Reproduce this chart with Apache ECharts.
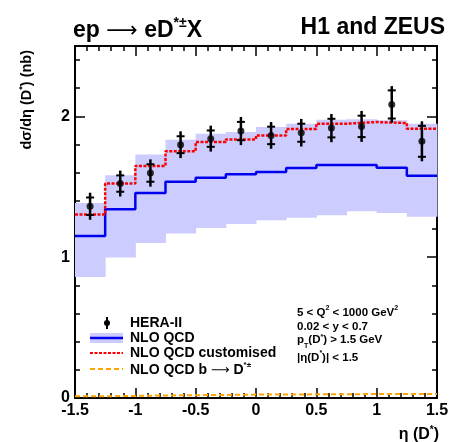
<!DOCTYPE html>
<html>
<head>
<meta charset="utf-8">
<script src="https://cdn.jsdelivr.net/npm/echarts@6/dist/echarts.min.js"></script>
<style>html,body{margin:0;padding:0;background:#fff;}#c{width:450px;height:442px;}</style>
</head>
<body>
<div id="c"></div>
<script>
// ---- data ----
var binEdges = [-1.5, -1.25, -1.0, -0.75, -0.5, -0.25, 0, 0.25, 0.5, 0.75, 1.0, 1.25, 1.5];
var etaCentres = [-1.375, -1.125, -0.875, -0.625, -0.375, -0.125, 0.125, 0.375, 0.625, 0.875, 1.125, 1.375];
var heraII = [1.362, 1.523, 1.598, 1.799, 1.842, 1.896, 1.865, 1.884, 1.917, 1.929, 2.085, 1.823];
var heraTotErr = [0.096, 0.092, 0.097, 0.095, 0.092, 0.100, 0.095, 0.098, 0.100, 0.110, 0.130, 0.142];
var heraStatErr = [0.062, 0.058, 0.062, 0.060, 0.058, 0.065, 0.062, 0.064, 0.066, 0.076, 0.100, 0.110];
var nloQCD = [1.151, 1.340, 1.456, 1.536, 1.565, 1.589, 1.605, 1.633, 1.655, 1.655, 1.636, 1.579];
var nloUpper = [1.385, 1.582, 1.730, 1.835, 1.877, 1.889, 1.925, 1.948, 1.977, 1.980, 1.972, 1.948];
var nloLower = [0.860, 0.998, 1.101, 1.168, 1.208, 1.236, 1.262, 1.281, 1.298, 1.326, 1.314, 1.287];
var nloCustomised = [1.303, 1.523, 1.648, 1.752, 1.818, 1.836, 1.865, 1.910, 1.948, 1.960, 1.953, 1.913];
var nloBtoD = [0.012, 0.015, 0.018, 0.020, 0.022, 0.024, 0.025, 0.026, 0.027, 0.028, 0.028, 0.028];
var xTicks = [-1.5, -1, -0.5, 0, 0.5, 1, 1.5];
var yTicks = [0, 1, 2];

// ---- helpers ----
function stepLine(vals) {
  var pts = [];
  for (var i = 0; i < vals.length; i++) {
    pts.push([binEdges[i], vals[i]]);
    pts.push([binEdges[i + 1], vals[i]]);
  }
  return pts;
}
var bandData = nloUpper.map(function (u, i) { return [binEdges[i], binEdges[i + 1], nloLower[i], u]; });
var heraData = heraII.map(function (v, i) { return [etaCentres[i], v, heraTotErr[i], heraStatErr[i]]; });

var FONT = '"Liberation Sans", Arial, Helvetica, sans-serif';
var ARROWFONT = '"DejaVu Sans", "Liberation Sans", sans-serif';
var chart = echarts.init(document.getElementById('c'), null, { renderer: 'canvas' });

var tickStyle = { color: '#000', width: 1.5 };
function xAx(pos, labels) {
  return {
    type: 'value', position: pos, min: -1.5, max: 1.5, interval: 0.5,
    axisLine: { show: true, onZero: false, lineStyle: { color: '#000', width: 2 } },
    axisTick: { show: true, inside: true, length: 10, lineStyle: tickStyle },
    minorTick: { show: true, splitNumber: 5, length: 5, lineStyle: tickStyle },
    splitLine: { show: false }, minorSplitLine: { show: false },
    axisLabel: labels ? {
      show: true, margin: 5, color: '#000', fontFamily: FONT, fontWeight: 'bold', fontSize: 16,
      formatter: function (v) { return xTicks.indexOf(v) >= 0 ? String(v) : ''; }
    } : { show: false }
  };
}
function yAx(pos, interval, len, labels, line) {
  return {
    type: 'value', position: pos, min: 0, max: 2.5, interval: interval,
    axisLine: { show: line, onZero: false, lineStyle: { color: '#000', width: 2 } },
    axisTick: { show: true, inside: true, length: len, lineStyle: tickStyle },
    splitLine: { show: false },
    axisLabel: labels ? {
      show: true, margin: 5, color: '#000', fontFamily: FONT, fontWeight: 'bold', fontSize: 16,
      showMaxLabel: false,
      formatter: function (v) { return yTicks.indexOf(v) >= 0 ? String(v) : ''; }
    } : { show: false }
  };
}

var option = {
  animation: false,
  backgroundColor: '#fff',
  grid: { left: 75, right: 13, top: 46, bottom: 44, containLabel: false, outerBoundsMode: 'none' },
  xAxis: [xAx('bottom', true), xAx('top', false)],
  yAxis: [yAx('left', 1, 10, true, true), yAx('left', 0.2, 5, false, false),
          yAx('right', 1, 10, false, true), yAx('right', 0.2, 5, false, false)],
  series: [
    {
      type: 'custom', name: 'band', xAxisIndex: 0, yAxisIndex: 0, z: 1,
      data: bandData,
      renderItem: function (params, api) {
        var p1 = api.coord([api.value(0), api.value(3)]);
        var p2 = api.coord([api.value(1), api.value(2)]);
        return { type: 'rect', shape: { x: p1[0], y: p1[1], width: p2[0] - p1[0] + 0.5, height: p2[1] - p1[1] },
                 style: { fill: '#ccccff' } };
      }
    },
    { type: 'line', name: 'NLO QCD', data: stepLine(nloQCD), showSymbol: false, z: 3,
      lineStyle: { color: '#0000ee', width: 2.5 } },
    { type: 'line', name: 'NLO QCD customised', data: stepLine(nloCustomised), showSymbol: false, z: 4,
      lineStyle: { color: '#ff0000', width: 2.5, type: [3, 1.5] } },
    { type: 'line', name: 'NLO QCD b', data: stepLine(nloBtoD), showSymbol: false, z: 4,
      lineStyle: { color: '#ffa500', width: 2, type: [5, 3] } },
    {
      type: 'custom', name: 'errors', z: 5, data: heraData,
      renderItem: function (params, api) {
        var x = api.value(0), y = api.value(1), t = api.value(2), s = api.value(3);
        var top = api.coord([x, y + t]), bot = api.coord([x, y - t]);
        var st = api.coord([x, y + s]), sb = api.coord([x, y - s]);
        var ls = { stroke: '#000', lineWidth: 2.5 };
        return { type: 'group', children: [
          { type: 'line', shape: { x1: top[0], y1: top[1], x2: bot[0], y2: bot[1] }, style: ls },
          { type: 'line', shape: { x1: st[0] - 4, y1: st[1], x2: st[0] + 4, y2: st[1] }, style: { stroke: '#000', lineWidth: 2 } },
          { type: 'line', shape: { x1: sb[0] - 4, y1: sb[1], x2: sb[0] + 4, y2: sb[1] }, style: { stroke: '#000', lineWidth: 2 } }
        ] };
      }
    },
    { type: 'scatter', name: 'HERA-II', z: 6, data: heraData.map(function (d) { return [d[0], d[1]]; }),
      symbol: 'circle', symbolSize: 7, itemStyle: { color: '#000' } }
  ],
  graphic: [
    { type: 'text', left: 73, top: 16, style: {
        text: '{n|ep }{a|⟶}{n| eD}{s|*±}{n|X}', fill: '#000',
        rich: { n: { fontFamily: FONT, fontWeight: 'bold', fontSize: 23, lineHeight: 26, verticalAlign: 'bottom' },
                a: { fontFamily: ARROWFONT, fontWeight: 'normal', fontSize: 22, lineHeight: 26, verticalAlign: 'bottom' },
                s: { fontFamily: FONT, fontWeight: 'bold', fontSize: 14, lineHeight: 26, verticalAlign: 'top' } } } },
    { type: 'text', right: 5, top: 16, style: {
        text: 'H1 and ZEUS', fill: '#000', font: 'bold 23px ' + FONT } },
    { type: 'text', x: 26, y: 50, rotation: Math.PI / 2, style: {
        text: '{n|dσ/dη (D}{s|*}{n|) (nb)}', align: 'right', verticalAlign: 'middle', fill: '#000',
        rich: { n: { fontFamily: FONT, fontWeight: 'bold', fontSize: 14.5, lineHeight: 16, verticalAlign: 'bottom' },
                s: { fontFamily: FONT, fontWeight: 'bold', fontSize: 9, lineHeight: 16, verticalAlign: 'top' } } } },
    { type: 'text', x: 439, y: 434, style: {
        text: '{n|η (D}{s|*}{n|)}', align: 'right', verticalAlign: 'middle', fill: '#000',
        rich: { n: { fontFamily: FONT, fontWeight: 'bold', fontSize: 16, lineHeight: 18, verticalAlign: 'bottom' },
                s: { fontFamily: FONT, fontWeight: 'bold', fontSize: 10, lineHeight: 18, verticalAlign: 'top' } } } },
    // legend
    { type: 'line', shape: { x1: 107, y1: 317, x2: 107, y2: 329 }, style: { stroke: '#000', lineWidth: 2 } },
    { type: 'circle', shape: { cx: 107, cy: 323, r: 3 }, style: { fill: '#000' } },
    { type: 'rect', shape: { x: 90, y: 333, width: 33, height: 10 }, style: { fill: '#ccccff' } },
    { type: 'line', shape: { x1: 90, y1: 338, x2: 123, y2: 338 }, style: { stroke: '#0000ee', lineWidth: 2.5 } },
    { type: 'line', shape: { x1: 90, y1: 353, x2: 123, y2: 353 }, style: { stroke: '#ff0000', lineWidth: 2, lineDash: [3, 1.5] } },
    { type: 'line', shape: { x1: 90, y1: 369, x2: 123, y2: 369 }, style: { stroke: '#ffa500', lineWidth: 2, lineDash: [5, 3] } },
    { type: 'text', x: 130, y: 323, style: { text: 'HERA-II', verticalAlign: 'middle', fill: '#000', font: 'bold 14px ' + FONT } },
    { type: 'text', x: 130, y: 338, style: { text: 'NLO QCD', verticalAlign: 'middle', fill: '#000', font: 'bold 14px ' + FONT } },
    { type: 'text', x: 130, y: 353, style: { text: 'NLO QCD customised', verticalAlign: 'middle', fill: '#000', font: 'bold 14px ' + FONT } },
    { type: 'text', x: 130, y: 369, style: {
        text: '{n|NLO QCD b }{a|⟶}{n| D}{s|*±}', verticalAlign: 'middle', fill: '#000',
        rich: { n: { fontFamily: FONT, fontWeight: 'bold', fontSize: 14, lineHeight: 16, verticalAlign: 'bottom' },
                a: { fontFamily: ARROWFONT, fontWeight: 'normal', fontSize: 13, lineHeight: 16, verticalAlign: 'bottom' },
                s: { fontFamily: FONT, fontWeight: 'bold', fontSize: 8, lineHeight: 16, verticalAlign: 'top' } } } },
    // cuts
    { type: 'text', x: 297, y: 312, style: {
        text: '{n|5 < Q}{s|2}{n| < 1000 GeV}{s|2}', verticalAlign: 'middle', fill: '#000',
        rich: { n: { fontFamily: FONT, fontWeight: 'bold', fontSize: 11.5, lineHeight: 14, verticalAlign: 'bottom' },
                s: { fontFamily: FONT, fontWeight: 'bold', fontSize: 7, lineHeight: 14, verticalAlign: 'top' } } } },
    { type: 'text', x: 297, y: 327, style: { text: '0.02 < y < 0.7', verticalAlign: 'middle', fill: '#000', font: 'bold 11.5px ' + FONT } },
    { type: 'text', x: 297, y: 342, style: {
        text: '{n|p}{b|T}{n|(D}{s|*}{n|) > 1.5 GeV}', verticalAlign: 'middle', fill: '#000',
        rich: { n: { fontFamily: FONT, fontWeight: 'bold', fontSize: 11.5, lineHeight: 14, verticalAlign: 'top' },
                s: { fontFamily: FONT, fontWeight: 'bold', fontSize: 7, lineHeight: 14, verticalAlign: 'top' },
                b: { fontFamily: FONT, fontWeight: 'bold', fontSize: 7, lineHeight: 16, verticalAlign: 'bottom' } } } },
    { type: 'text', x: 297, y: 357, style: {
        text: '{n||η(D}{s|*}{n|)| < 1.5}', verticalAlign: 'middle', fill: '#000',
        rich: { n: { fontFamily: FONT, fontWeight: 'bold', fontSize: 11.5, lineHeight: 14, verticalAlign: 'bottom' },
                s: { fontFamily: FONT, fontWeight: 'bold', fontSize: 7, lineHeight: 14, verticalAlign: 'top' } } } }
  ]
};
chart.setOption(option);
</script>
</body>
</html>
